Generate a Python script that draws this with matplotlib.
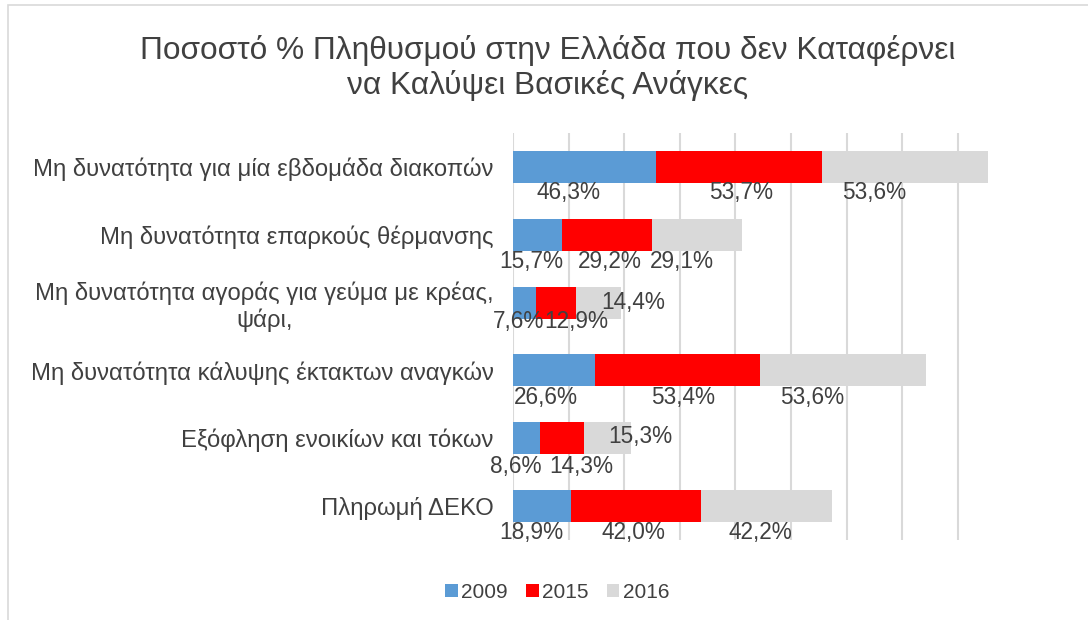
import numpy as np
import matplotlib.pyplot as plt
from matplotlib.patches import Rectangle

plt.rcParams['font.family'] = ['Liberation Sans', 'DejaVu Sans']

categories = [
    "Μη δυνατότητα για μία εβδομάδα διακοπών",
    "Μη δυνατότητα επαρκούς θέρμανσης",
    "Μη δυνατότητα αγοράς για γεύμα με κρέας,\nψάρι,",
    "Μη δυνατότητα κάλυψης έκτακτων αναγκών",
    "Εξόφληση ενοικίων και τόκων",
    "Πληρωμή ΔΕΚΟ",
]
years = ["2009", "2015", "2016"]
v2009 = [46.3, 15.7, 7.6, 26.6, 8.6, 18.9]
v2015 = [53.7, 29.2, 12.9, 53.4, 14.3, 42.0]
v2016 = [53.6, 29.1, 14.4, 53.6, 15.3, 42.2]

colors = ["#5B9BD5", "#FF0000", "#D9D9D9"]
txt = "#404040"

# label nudges in pixels (dx, dy below bar centre), one row per category
nudges = [
    [(-16, 26), (2, 26), (-31, 26)],
    [(-6, 27), (3, 27), (-15, 27)],
    [(-6, 19), (20, 19), (35, 0)],
    [(-8, 27), (5, 27), (-31, 27)],
    [(-11, 28), (20, 28), (33, -2)],
    [(-11, 26), (-3, 26), (-6, 26)],
]

fig = plt.figure(figsize=(10.88, 6.2), dpi=100)
fig.patches.append(Rectangle((8 / 1088, -0.1), 1.2, (1 - 5 / 620) + 0.1,
                             transform=fig.transFigure, fill=False,
                             edgecolor="#D9D9D9", linewidth=1.2))
ax = fig.add_axes([513 / 1088, 80 / 620, 499 / 1088, 407 / 620])

y = np.arange(len(categories))
left = np.zeros(len(categories))
series = [v2009, v2015, v2016]
for i, vals in enumerate(series):
    bars = ax.barh(y, vals, left=left, height=0.47, color=colors[i],
                   label=years[i], zorder=3)
    for j, (b, v) in enumerate(zip(bars, vals)):
        cx = b.get_x() + b.get_width() / 2
        cy = b.get_y() + b.get_height() / 2
        dx, dy = nudges[j][i]
        ax.annotate(f"{v:.1f}%".replace(".", ","), (cx, cy),
                    xytext=(dx, -dy), textcoords="offset pixels",
                    ha="center", va="center", fontsize=16.3, color=txt,
                    zorder=4)
    left = left + np.array(vals)

ax.set_xlim(0, 161.5)
ax.set_ylim(len(categories) - 0.5, -0.5)
ax.set_xticks(np.arange(0, 162, 18))
ax.set_xticklabels([])
ax.tick_params(axis="x", length=0)
ax.grid(axis="x", color="#D9D9D9", linewidth=1.5, zorder=0)
ax.set_yticks(y)
ax.set_yticklabels(categories, fontsize=17.2, color=txt, multialignment="center")
ax.tick_params(axis="y", length=0, pad=14)
for s in ax.spines.values():
    s.set_visible(False)

fig.text(0.503, 0.89, "Ποσοστό % Πληθυσμού στην Ελλάδα που δεν Καταφέρνει\nνα Καλύψει Βασικές Ανάγκες",
         ha="center", va="center", fontsize=22.8, color=txt, linespacing=1.15)

fig.legend(loc="center", bbox_to_anchor=(0.512, 0.045), ncol=3, frameon=False,
           fontsize=15, handlelength=0.6, handleheight=0.6, handletextpad=0.15,
           columnspacing=0.9, labelcolor=txt)

fig.savefig("out.png", dpi=100)
